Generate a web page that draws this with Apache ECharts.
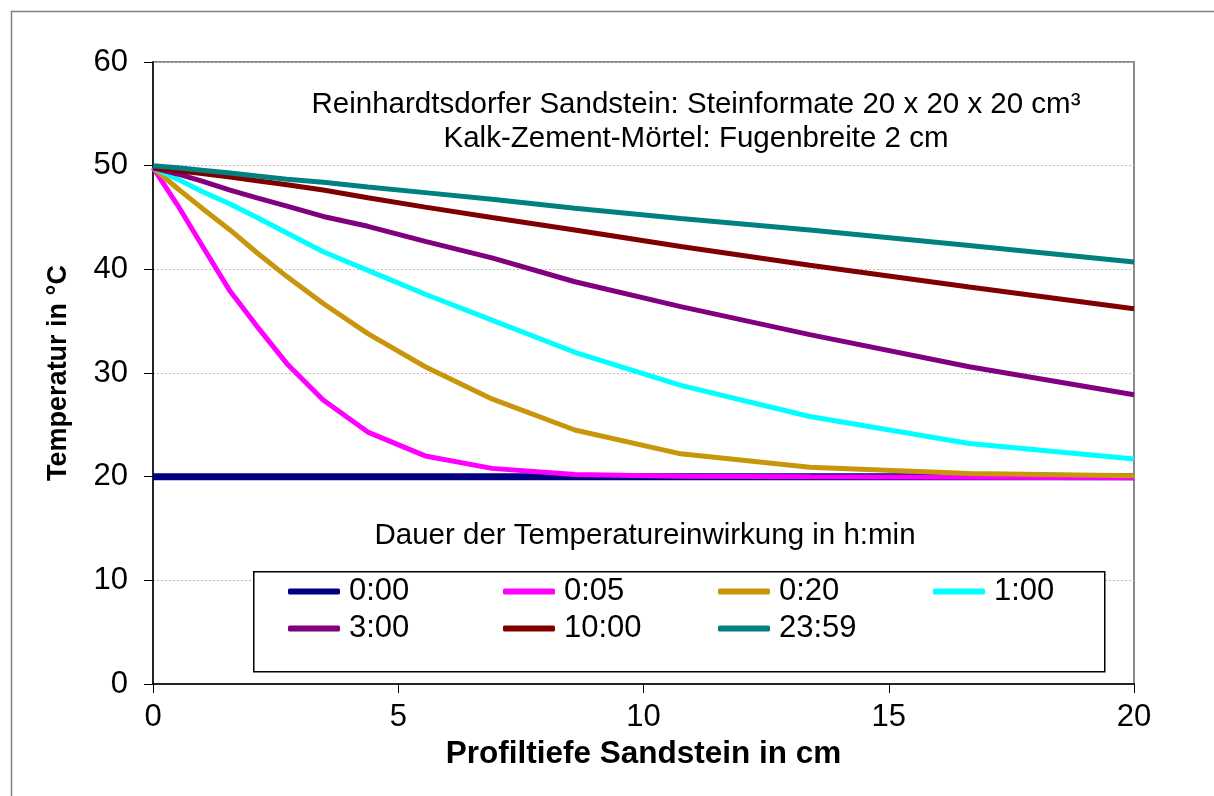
<!DOCTYPE html>
<html>
<head>
<meta charset="utf-8">
<script src="https://cdn.jsdelivr.net/npm/echarts@6/dist/echarts.min.js"></script>
<style>
html,body{margin:0;padding:0;background:#fff;}
#chart{width:1214px;height:796px;}
</style>
</head>
<body>
<div id="chart"></div>
<script>
// Depth positions (cm) and temperatures (°C)
const depth = [0, 0.5, 1.0, 1.57, 2.12, 2.73, 3.47, 4.38, 5.55, 6.91, 8.60, 10.76, 13.39, 16.64, 20];
const t0000 = [20, 20, 20, 20, 20, 20, 20, 20, 20, 20, 20, 20, 20, 20, 20];
const t0005 = [49.8, 46.2, 42.3, 37.9, 34.5, 30.9, 27.4, 24.3, 22.0, 20.8, 20.2, 20.05, 20.0, 19.95, 19.9];
const t0020 = [49.8, 47.8, 45.9, 43.8, 41.6, 39.3, 36.7, 33.8, 30.6, 27.5, 24.5, 22.2, 20.9, 20.3, 20.1];
const t0100 = [49.8, 48.7, 47.5, 46.3, 45.0, 43.5, 41.7, 39.9, 37.6, 35.1, 32.0, 28.8, 25.8, 23.2, 21.7];
const t0300 = [49.8, 49.2, 48.5, 47.65, 46.9, 46.1, 45.1, 44.15, 42.7, 41.1, 38.8, 36.4, 33.7, 30.6, 27.9];
const t1000 = [49.8, 49.5, 49.25, 48.9, 48.55, 48.15, 47.65, 46.9, 46.0, 45.0, 43.8, 42.2, 40.4, 38.3, 36.2];
const t2359 = [50.0, 49.8, 49.55, 49.3, 49.0, 48.7, 48.4, 47.95, 47.4, 46.75, 45.9, 44.9, 43.8, 42.3, 40.7];

const seriesNames = ['0:00', '0:05', '0:20', '1:00', '3:00', '10:00', '23:59'];
const seriesValues = [t0000, t0005, t0020, t0100, t0300, t1000, t2359];
const seriesColors = ['#000080', '#FF00FF', '#C8960A', '#00FFFF', '#800080', '#800000', '#008080'];
const seriesWidths = [7, 5, 5, 5, 5, 5, 5];

const titleLine1 = 'Reinhardtsdorfer Sandstein: Steinformate 20 x 20 x 20 cm³';
const titleLine2 = 'Kalk-Zement-Mörtel: Fugenbreite 2 cm';
const legendTitle = 'Dauer der Temperatureinwirkung in h:min';
const xName = 'Profiltiefe Sandstein in cm';
const yName = 'Temperatur in °C';

const FONT = '"Liberation Sans", Arial, Helvetica, sans-serif';

const chart = echarts.init(document.getElementById('chart'), null, {renderer: 'canvas'});

const series = seriesNames.map((n, i) => ({
  name: n,
  type: 'line',
  data: depth.map((d, k) => [d, seriesValues[i][k]]),
  symbol: 'none',
  smooth: false,
  lineStyle: {color: seriesColors[i], width: seriesWidths[i]},
  itemStyle: {color: seriesColors[i]},
  emphasis: {disabled: true},
  z: 2 + i
}));

const option = {
  animation: false,
  backgroundColor: '#fff',
  textStyle: {fontFamily: FONT},
  grid: {
    left: 153, top: 62, right: 80, bottom: 112,
    show: true, borderColor: '#8a8a8a', borderWidth: 2, backgroundColor: 'transparent'
  },
  xAxis: {
    type: 'value', min: 0, max: 20, interval: 5,
    name: xName, nameLocation: 'middle', nameGap: 53,
    nameTextStyle: {fontFamily: FONT, fontSize: 31.5, fontWeight: 'bold', color: '#000'},
    axisLine: {show: true, onZero: false, lineStyle: {color: '#000', width: 1.5}},
    axisTick: {show: true, inside: false, length: 9, lineStyle: {color: '#000', width: 1}},
    axisLabel: {fontFamily: FONT, fontSize: 31, color: '#000', margin: 18},
    splitLine: {show: false}
  },
  yAxis: {
    type: 'value', min: 0, max: 60, interval: 10,
    name: yName, nameLocation: 'middle', nameGap: 81,
    nameTextStyle: {fontFamily: FONT, fontSize: 27, fontWeight: 'bold', color: '#000'},
    axisLine: {show: true, lineStyle: {color: '#000', width: 1.5}},
    axisTick: {show: true, inside: false, length: 9, lineStyle: {color: '#000', width: 1}},
    axisLabel: {fontFamily: FONT, fontSize: 31, color: '#000', margin: 25},
    splitLine: {show: true, lineStyle: {color: '#bdbdbd', width: 1, type: [2, 2]}}
  },
  legend: {
    data: seriesNames,
    left: 288, top: 576, width: 880,
    orient: 'horizontal',
    padding: 0,
    itemGap: 6,
    itemWidth: 52, itemHeight: 6,
    icon: 'roundRect',
    selectedMode: false,
    textStyle: {fontFamily: FONT, fontSize: 31, color: '#000', width: 148, lineHeight: 31, padding: [0, 0, 0, 4]},
    z: 20
  },
  graphic: [
    {type: 'rect', left: 9, top: 9, shape: {width: 1400, height: 1000}, style: {fill: 'none', stroke: '#808080', lineWidth: 1.5}, silent: true, z: 0},
    {type: 'rect', left: 253, top: 571, shape: {width: 851, height: 100}, style: {fill: '#fff', stroke: '#000', lineWidth: 1.5}, silent: true, z: 10},
    {type: 'text', x: 696, y: 105, style: {text: titleLine1, font: '29.5px ' + FONT, fill: '#000', textAlign: 'center', textVerticalAlign: 'middle'}, silent: true, z: 10},
    {type: 'text', x: 696, y: 139, style: {text: titleLine2, font: '29.5px ' + FONT, fill: '#000', textAlign: 'center', textVerticalAlign: 'middle'}, silent: true, z: 10},
    {type: 'text', x: 645, y: 536, style: {text: legendTitle, font: '29.5px ' + FONT, fill: '#000', textAlign: 'center', textVerticalAlign: 'middle'}, silent: true, z: 10}
  ],
  series: series
};
chart.setOption(option);
</script>
</body>
</html>
